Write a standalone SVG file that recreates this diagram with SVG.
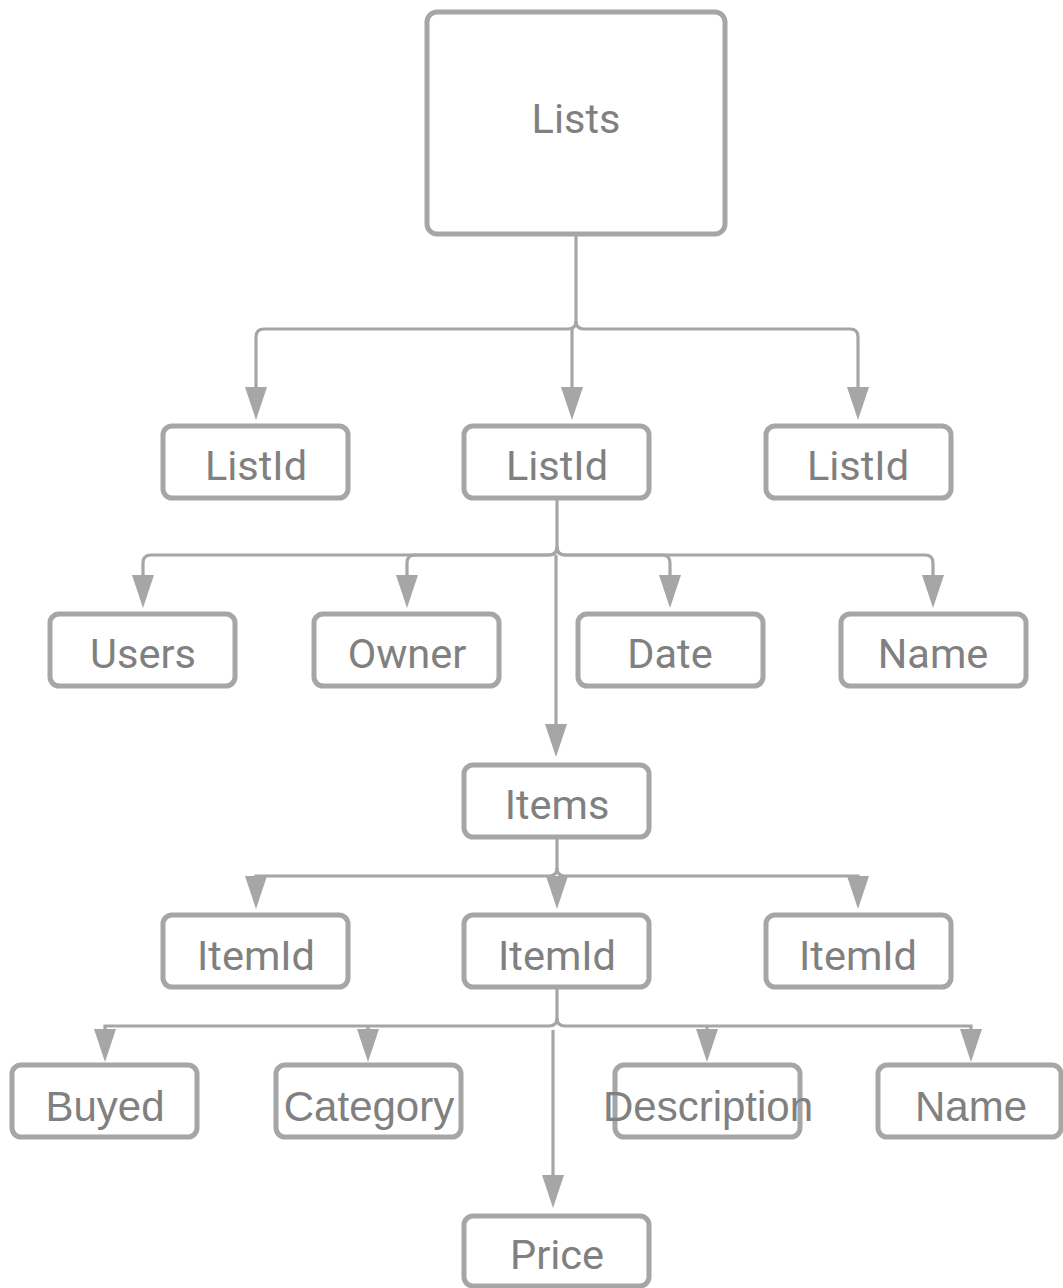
<svg xmlns="http://www.w3.org/2000/svg" width="1063" height="1288" viewBox="0 0 1063 1288">
<style>
.box{fill:#fff;stroke:#a6a6a6;stroke-width:5}
.t{font-family:Roboto,"Liberation Sans",sans-serif;font-size:41.5px;fill:#808080;text-anchor:middle}
.t2{font-family:"Liberation Sans",Arial,sans-serif;font-size:42px;fill:#808080;text-anchor:middle}
.c{fill:none;stroke:#a6a6a6;stroke-width:3.2}
.a{fill:#a6a6a6}
</style>
<defs>
<path id="ah" d="M-11,-33 L11,-33 L0,0 Z"/>
</defs>
<rect width="1063" height="1288" fill="#fff"/>
<g id="connectors">
<path class="c" d="M576,236 V321 Q576,329 568,329 H264 Q256,329 256,337 V400"/>
<path class="c" d="M576,321 Q576,329 584,329 H850 Q858,329 858,337 V400"/>
<path class="c" d="M572,329 V400"/>
<use href="#ah" class="a" x="256" y="420"/>
<use href="#ah" class="a" x="572" y="420"/>
<use href="#ah" class="a" x="858" y="420"/>

<path class="c" d="M557,500 V547 Q557,555 549,555 H151 Q143,555 143,563 V590"/>
<path class="c" d="M557,547 Q557,555 549,555 H415 Q407,555 407,563 V590"/>
<path class="c" d="M557,547 Q557,555 565,555 H662 Q670,555 670,563 V590"/>
<path class="c" d="M557,547 Q557,555 565,555 H925 Q933,555 933,563 V590"/>
<path class="c" d="M556,555 V740"/>
<use href="#ah" class="a" x="143" y="608"/>
<use href="#ah" class="a" x="407" y="608"/>
<use href="#ah" class="a" x="670" y="608"/>
<use href="#ah" class="a" x="933" y="608"/>
<use href="#ah" class="a" x="556" y="757"/>

<path class="c" d="M557,838 V868 Q557,876 565,876 H858 V890"/>
<path class="c" d="M557,868 Q557,876 549,876 H256 V890"/>
<path class="c" d="M557,876 V890"/>
<use href="#ah" class="a" x="256" y="909"/>
<use href="#ah" class="a" x="557" y="909"/>
<use href="#ah" class="a" x="858" y="909"/>

<path class="c" d="M557,989 V1018 Q557,1026 549,1026 H105 V1040"/>
<path class="c" d="M557,1018 Q557,1026 565,1026 H971 V1040"/>
<path class="c" d="M368,1026 V1040"/>
<path class="c" d="M707,1026 V1040"/>
<path class="c" d="M553,1030 V1190"/>
<use href="#ah" class="a" x="105" y="1062"/>
<use href="#ah" class="a" x="368" y="1062"/>
<use href="#ah" class="a" x="707" y="1062"/>
<use href="#ah" class="a" x="971" y="1062"/>
<use href="#ah" class="a" x="553" y="1208"/>
</g>

<g id="lists"><rect class="box" x="427" y="12" width="298" height="222" rx="10"/><text class="t" x="576" y="133">Lists</text></g>

<g id="listid1"><rect class="box" x="163" y="426" width="185" height="72" rx="9"/><text class="t" x="256" y="480">ListId</text></g>
<g id="listid2"><rect class="box" x="464" y="426" width="185" height="72" rx="9"/><text class="t" x="557" y="480">ListId</text></g>
<g id="listid3"><rect class="box" x="766" y="426" width="185" height="72" rx="9"/><text class="t" x="858" y="480">ListId</text></g>

<g id="users"><rect class="box" x="50" y="614" width="185" height="72" rx="9"/><text class="t" x="143" y="668">Users</text></g>
<g id="owner"><rect class="box" x="314" y="614" width="185" height="72" rx="9"/><text class="t" x="407" y="668">Owner</text></g>
<g id="date"><rect class="box" x="578" y="614" width="185" height="72" rx="9"/><text class="t" x="670" y="668">Date</text></g>
<g id="name1"><rect class="box" x="841" y="614" width="185" height="72" rx="9"/><text class="t" x="933" y="668">Name</text></g>

<g id="items"><rect class="box" x="464" y="765" width="185" height="72" rx="9"/><text class="t" x="557" y="819">Items</text></g>

<g id="itemid1"><rect class="box" x="163" y="915" width="185" height="72" rx="9"/><text class="t" x="256" y="970">ItemId</text></g>
<g id="itemid2"><rect class="box" x="464" y="915" width="185" height="72" rx="9"/><text class="t" x="557" y="970">ItemId</text></g>
<g id="itemid3"><rect class="box" x="766" y="915" width="185" height="72" rx="9"/><text class="t" x="858" y="970">ItemId</text></g>

<g id="buyed"><rect class="box" x="12" y="1065" width="185" height="72" rx="9"/><text class="t2" x="105" y="1121">Buyed</text></g>
<g id="category"><rect class="box" x="276" y="1065" width="185" height="72" rx="9"/><text class="t2" x="369" y="1121">Category</text></g>
<g id="description"><rect class="box" x="615" y="1065" width="185" height="72" rx="9"/><text class="t2" x="708" y="1121">Description</text></g>
<g id="name2"><rect class="box" x="878" y="1065" width="183" height="72" rx="9"/><text class="t2" x="971" y="1121">Name</text></g>

<g id="price"><rect class="box" x="464" y="1216" width="185" height="70" rx="9"/><text class="t" x="557" y="1269">Price</text></g>
</svg>
